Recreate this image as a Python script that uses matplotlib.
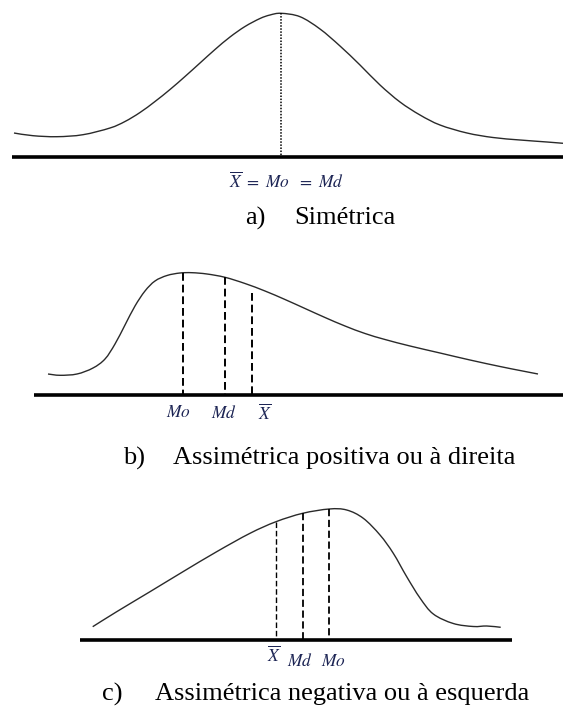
import numpy as np
import matplotlib
matplotlib.use("Agg")
import matplotlib.pyplot as plt
from matplotlib.path import Path
from matplotlib.patches import PathPatch

plt.rcParams["font.family"] = ["Liberation Serif", "DejaVu Serif"]
plt.rcParams["mathtext.fontset"] = "stix"

# curve outlines, in page units (x to the right, y downwards)
sym_x = [14, 33, 57, 83, 110, 125, 140, 155, 170, 185, 200, 215, 230, 245, 260, 270, 281,
         300, 320, 340, 360, 380, 400, 420, 440, 467, 493, 520, 547, 563]
sym_y = [133, 135.7, 136.7, 134.7, 128, 121.5, 112.5, 101.5, 89.5, 76.5, 63, 49.5, 37, 26.5,
         18.5, 15, 13.3,
         16.7, 29, 46, 65, 85, 102, 115, 125, 133, 137.5, 140, 142, 143.3]

pos_x = [48, 60, 77, 93, 105, 115, 125, 135, 145, 155, 167, 180, 192, 207, 225, 245, 265,
         285, 305, 325, 345, 365, 385, 410, 440, 470, 500, 520, 538]
pos_y = [374, 375.3, 374, 368, 359, 344, 325, 306, 291, 281, 275.5, 273, 272.7, 274, 277.3,
         283.5, 291, 299.5, 308.5, 317.5, 326, 333.5, 339.5, 346, 353, 360, 366.5, 370.5, 374]

neg_x = [92.7, 116.7, 150, 183, 216.7, 250, 276, 302.7, 329.3, 346.7, 363.3, 380, 393.3,
         406.7, 420, 433.3, 453.3, 473.3, 486.7, 500.7]
neg_y = [626.7, 611.7, 591.7, 571.7, 551.7, 533.3, 521.7, 513.3, 509, 510, 518.3, 535, 553.3,
         576.7, 598, 614, 623.5, 626.5, 626, 627.3]

# axis lines: (y, x start, x end)
baselines = [(156.7, 12, 563), (395, 34, 563), (640, 80, 512)]

# position lines for the central measures: (x, top, bottom)
sym_marks = [(281, 13.3, 156.7)]
pos_marks = [(183, 273, 395), (225, 277.3, 395), (252, 292.5, 395)]
neg_marks = [(276, 521.7, 640), (302.7, 513.3, 640), (329.3, 509, 640)]

captions = [("a)", "Simétrica", 245, 294, 218),
            ("b)", "Assimétrica positiva ou à direita", 123, 173, 458),
            ("c)", "Assimétrica negativa ou à esquerda", 102, 155, 694)]


def smooth_path(xs, ys):
    # cubic Bezier through the points (Catmull-Rom tangents)
    p = np.column_stack([xs, ys]).astype(float)
    ext = np.vstack([p[0], p, p[-1]])
    verts, codes = [p[0]], [Path.MOVETO]
    for i in range(len(p) - 1):
        a, b, c, d = ext[i], ext[i + 1], ext[i + 2], ext[i + 3]
        verts += [b + (c - a) / 6, c - (d - b) / 6, c]
        codes += [Path.CURVE4] * 3
    return Path(verts, codes)


fig = plt.figure(figsize=(5.63, 7.15), dpi=100)
ax = fig.add_axes([0, 0, 1, 1])
ax.set_xlim(0, 563)
ax.set_ylim(715, 0)
ax.axis("off")

for xs, ys in [(sym_x, sym_y), (pos_x, pos_y), (neg_x, neg_y)]:
    ax.add_patch(PathPatch(smooth_path(xs, ys), fill=False, edgecolor="#2a2a2a", lw=1.0))

for y, x0, x1 in baselines:
    ax.plot([x0, x1], [y, y], color="black", lw=2.6, solid_capstyle="butt")

for x, top, bot in sym_marks:
    ax.plot([x, x], [top, bot], color="black", lw=1.1, ls=(0, (1, 1)))
for x, top, bot in pos_marks:
    ax.plot([x, x], [top, bot], color="black", lw=1.4, ls=(0, (4, 2)))
for i, (x, top, bot) in enumerate(neg_marks):
    ax.plot([x, x], [top, bot], color="black", lw=1.0 if i == 0 else 1.3, ls=(0, (4, 2)))

lab = dict(color="#1c2454", fontsize=12.5, ha="center", va="center")
ax.text(286, 182, r"$\overline{X}\ =\ Mo\ \ =\ Md$", **lab)
ax.text(178, 413, r"$Mo$", **lab)
ax.text(224, 413, r"$Md$", **lab)
ax.text(265, 413, r"$\overline{X}$", **lab)
ax.text(274, 655, r"$\overline{X}$", **lab)
ax.text(300, 662, r"$Md$", **lab)
ax.text(333, 662, r"$Mo$", **lab)

for tag, title, xt, xs, y in captions:
    ax.text(xt, y, tag, fontsize=19, ha="left", va="center")
    ax.text(xs, y, title, fontsize=19, ha="left", va="center")

fig.savefig("out.png", dpi=100)
